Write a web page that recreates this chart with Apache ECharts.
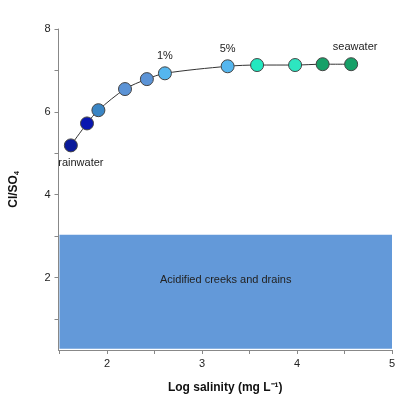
<!DOCTYPE html>
<html><head><meta charset="utf-8">
<script src="https://cdn.jsdelivr.net/npm/echarts@6/dist/echarts.min.js"></script>
<style>html,body{margin:0;padding:0;background:#fff}#c{width:400px;height:404px}</style>
</head><body><div id="c"></div>
<script>
const logSalinity = [1.62, 1.79, 1.91, 2.19, 2.42, 2.61, 3.27, 3.58, 3.98, 4.27, 4.57];
const ratio = [5.19, 5.72, 6.04, 6.55, 6.79, 6.93, 7.10, 7.13, 7.13, 7.15, 7.15];
const pointColors = ['#0a1a9a','#0816b0','#3a85c4','#5b93d6','#5b93d6','#55b6ee','#55b6ee','#22e8c0','#2de6c0','#17a068','#17a068'];
const pointLabels = ['rainwater','','','','','1%','5%','','','','seawater'];
const boxX = [1.5, 5];
const boxY = [0.28, 3.03];
const boxLabel = 'Acidified creeks and drains';
const xTicks = [1.5,2,2.5,3,3.5,4,4.5,5];
const xLabels = [2,3,4,5];
const yTicks = [1,2,3,4,5,6,7,8];
const yLabels = [2,4,6,8];

const chart = echarts.init(document.getElementById('c'));
const font = 'Helvetica, Arial, "Liberation Sans", sans-serif';
chart.setOption({
  animation:false,
  grid:{left:57,right:8,top:29,bottom:54},
  xAxis:{type:'value',min:1.49,max:5,
    name:'Log salinity (mg L\u207B\u00B9)',nameLocation:'middle',nameGap:32,
    nameTextStyle:{fontWeight:'bold',fontSize:12,color:'#111',fontFamily:font},
    axisLine:{lineStyle:{color:'#888'}},
    axisTick:{customValues:xTicks,lineStyle:{color:'#888'},length:4},
    axisLabel:{customValues:xLabels,color:'#222',fontSize:11,fontFamily:font},
    splitLine:{show:false}},
  yAxis:{type:'value',min:0.25,max:8,
    name:'{a|Cl/SO}{s|4}',nameLocation:'middle',nameGap:38,nameRotate:90,
    nameTextStyle:{rich:{a:{fontWeight:'bold',fontSize:12,color:'#111',fontFamily:font},s:{fontWeight:'bold',fontSize:7,color:'#111',padding:[6,0,0,0],fontFamily:font}}},
    axisLine:{show:true,lineStyle:{color:'#888'}},
    axisTick:{show:true,customValues:yTicks,lineStyle:{color:'#888'},length:4},
    axisLabel:{customValues:yLabels,color:'#222',fontSize:11,fontFamily:font},
    splitLine:{show:false}},
  series:[
    {type:'line',data:[],silent:true,
     markArea:{silent:true,itemStyle:{color:'#6399d9'},
       label:{show:true,position:'inside',offset:[0,-12],color:'#222',fontSize:11,fontFamily:font,formatter:boxLabel},
       data:[[{xAxis:boxX[0],yAxis:boxY[1]},{xAxis:boxX[1],yAxis:boxY[0]}]]}},
    {type:'line',smooth:0.3,symbol:'circle',symbolSize:13,
     lineStyle:{color:'#333',width:1},
     data:logSalinity.map((x,i)=>({value:[x,ratio[i]],
       itemStyle:{color:pointColors[i],borderColor:'#444',borderWidth:1},
       label:{show:!!pointLabels[i],formatter:pointLabels[i],
         position:i===0?'bottom':'top',
         offset:i===0?[10,0]:(i===10?[4,0]:[0,0]),
         color:'#222',fontSize:11,fontFamily:font}})),
     z:5}
  ]
});
</script></body></html>
